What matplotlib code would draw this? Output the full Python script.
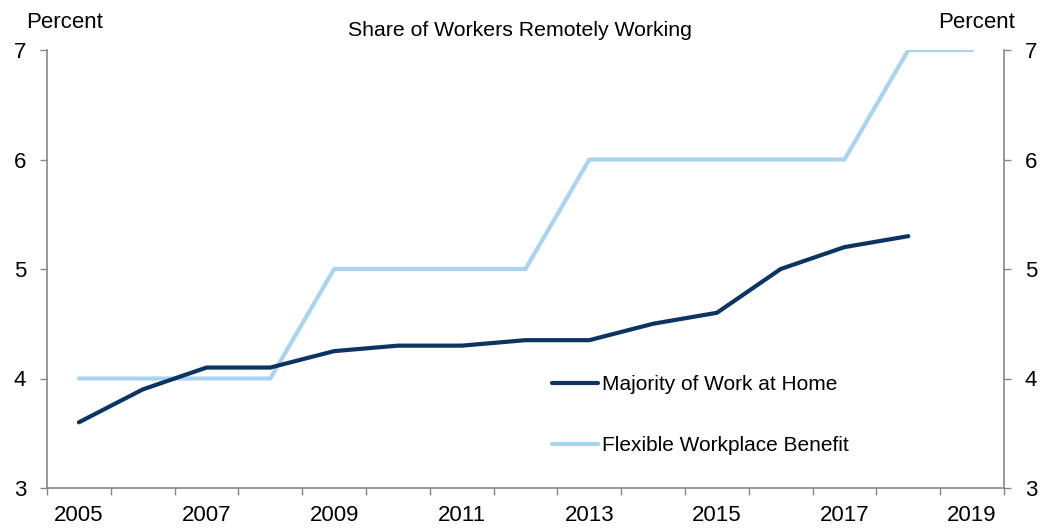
"""
Share of workers remotely working, 2005-2019.
Dual y-axis labels (same scale), category-style x axis.
"""

import matplotlib.pyplot as plt
import numpy as np

plt.rcParams["font.family"] = ["Liberation Sans", "DejaVu Sans"]

years = [2005, 2006, 2007, 2008, 2009, 2010, 2011, 2012,
         2013, 2014, 2015, 2016, 2017, 2018, 2019]
majority_home = [3.6, 3.9, 4.1, 4.1, 4.25, 4.3, 4.3, 4.35,
                 4.35, 4.5, 4.6, 5.0, 5.2, 5.3, np.nan]
flexible_benefit = [4.0, 4.0, 4.0, 4.0, 5.0, 5.0, 5.0, 5.0,
                    6.0, 6.0, 6.0, 6.0, 6.0, 7.0, 7.0]
yticks = [3, 4, 5, 6, 7]

DARK = "#0b3560"
LIGHT = "#aad3f0"
AXIS = "#868686"
FS = 16

fig = plt.figure(figsize=(10.52, 5.29), dpi=100)
ax = fig.add_axes([47 / 1052, 1 - 488 / 529, 957 / 1052, 438 / 529])

x = np.arange(len(years))
ax.plot(x, majority_home, color=DARK, lw=3.0, solid_capstyle="round",
        solid_joinstyle="round", label="Majority of Work at Home", zorder=3)
ax.plot(x, flexible_benefit, color=LIGHT, lw=3.0, solid_capstyle="round",
        solid_joinstyle="round", label="Flexible Workplace Benefit", zorder=2)

ax.set_xlim(-0.5, len(years) - 0.5)
ax.set_ylim(3, 7)

# ticks on category boundaries, labels on every other category
ax.set_xticks(np.arange(len(years) + 1) - 0.5)
ax.set_xticklabels([])
ax.set_xticks(x[::2], minor=True)
ax.set_xticklabels([str(y) for y in years[::2]], minor=True, fontsize=FS)
ax.tick_params(axis="x", which="major", length=5, width=1, color=AXIS,
               direction="out")
ax.tick_params(axis="x", which="minor", length=0, pad=12)

ax.set_yticks(yticks)
ax.set_yticklabels([str(v) for v in yticks], fontsize=FS)
ax.tick_params(axis="y", which="both", length=5, width=1, color=AXIS,
               direction="out", left=True, right=True, labelleft=True,
               labelright=True, pad=10)

for side in ["left", "right", "bottom"]:
    ax.spines[side].set_color(AXIS)
    ax.spines[side].set_linewidth(1.2)
ax.spines["top"].set_visible(False)

fig.text(26 / 1052, 1 - 22 / 529, "Percent", fontsize=FS, ha="left", va="center")
fig.text(1015 / 1052, 1 - 22 / 529, "Percent", fontsize=FS, ha="right", va="center")
fig.text(520 / 1052, 1 - 31 / 529, "Share of Workers Remotely Working",
         fontsize=15.3, ha="center", va="center")

ax.legend(loc="upper left", bbox_to_anchor=(0.528, 0.257), frameon=False,
          fontsize=15, handlelength=2.2, handletextpad=0.2, labelspacing=1.99,
          borderpad=0, borderaxespad=0)

fig.savefig("out.png", dpi=100)
